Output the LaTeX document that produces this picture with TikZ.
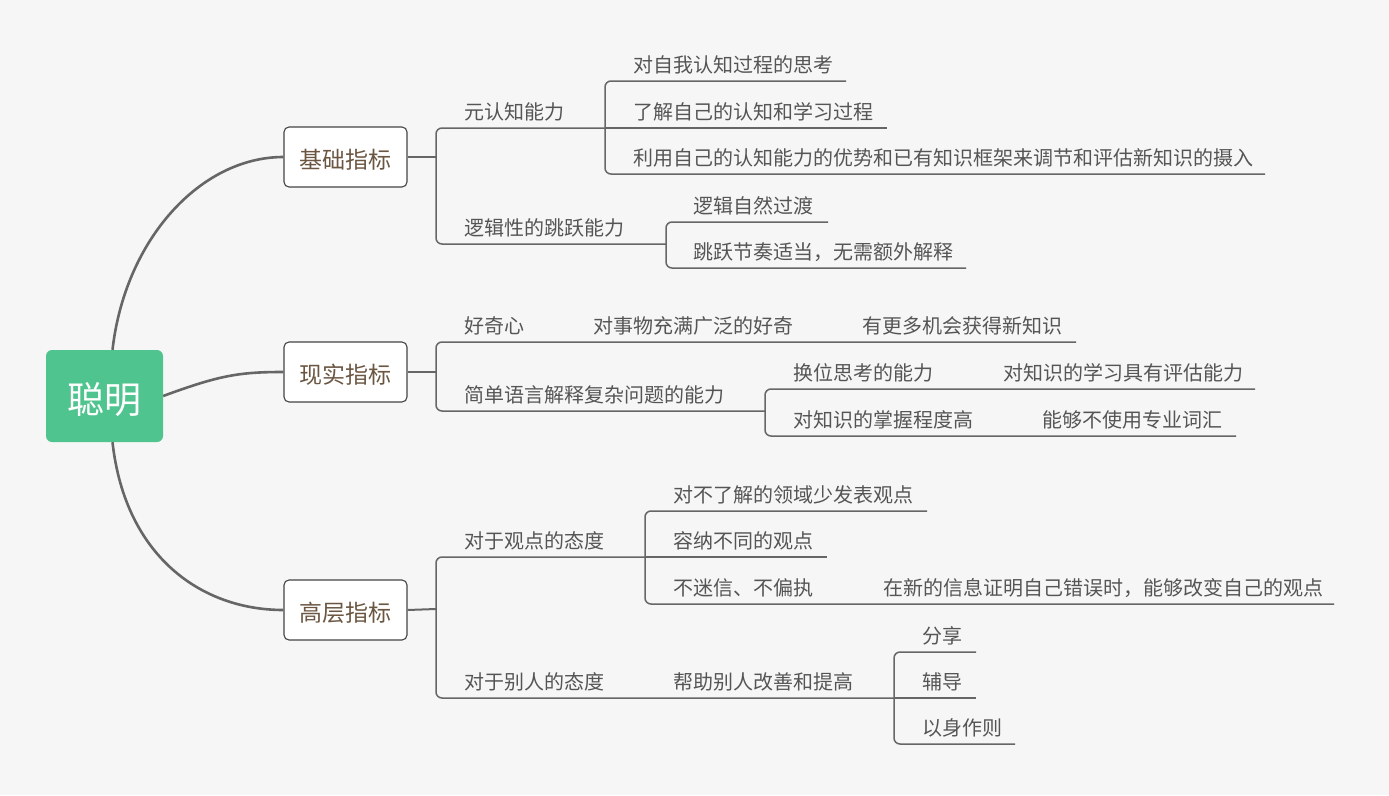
\documentclass[tikz,border=0pt]{standalone}
\usepackage{fontspec}
\setmainfont{Noto Sans CJK SC}
\definecolor{bgc}{HTML}{F6F6F6}
\definecolor{rootc}{HTML}{50C48F}
\definecolor{linec}{HTML}{666666}
\definecolor{leafc}{HTML}{555555}
\definecolor{boxtc}{HTML}{6B5642}
\definecolor{boxdc}{HTML}{444444}
\tikzset{
  leaf/.style={font=\fontsize{20}{24}\selectfont, text=leafc, inner sep=0pt, anchor=base west, yshift=-1.5pt},
  mainbox/.style={draw=boxdc, fill=white, line width=1.1pt, rounded corners=5pt, minimum width=123pt, minimum height=60pt, inner sep=0pt, font=\fontsize{23}{27}\selectfont, text=boxtc},
  rootbox/.style={fill=rootc, rounded corners=6pt, minimum width=117pt, minimum height=92pt, inner sep=0pt, font=\fontsize{37}{42}\selectfont, text=white},
  mainline/.style={draw=linec, line width=2.6pt},
  conn/.style={draw=linec, line width=2pt},
  uline/.style={draw=linec, line width=1.5pt, rounded corners=6pt},
}
\newcommand{\dn}[2]{\raisebox{-#1}[\height][\depth]{#2}}
\begin{document}
\begin{tikzpicture}[x=1pt,y=-1pt]
\fill[bgc] (0,0) rectangle (1389,795);
\useasboundingbox (0,0) rectangle (1389,795);

% root and main boxes
\node[rootbox] (root) at (104.5,396) {\dn{4pt}{聪明}};
\node[mainbox] (b1) at (345.5,157) {\dn{2.5pt}{基础指标}};
\node[mainbox] (b2) at (345.5,372) {\dn{2.5pt}{现实指标}};
\node[mainbox] (b3) at (345.5,610) {\dn{2.5pt}{高层指标}};

\draw[mainline] ([xshift=8pt]root.north) .. controls (125,240) and (200,157) .. (b1.west);
\draw[mainline] (root.east) .. controls (220,375) and (240,372) .. (b2.west);
\draw[mainline] ([xshift=8pt]root.south) .. controls (125,555) and (200,610) .. (b3.west);

% ---------- 基础指标 ----------
\coordinate (k1) at (436,157);
\draw[conn] (b1.east) -- (k1);
\node[leaf] (a1) at (464,118) {元认知能力};
\node[leaf] (a2) at (464,234) {逻辑性的跳跃能力};
\draw[uline] (605,128) -- (436,128) -- (436,244) -- (666,244);

\node[leaf] (a11) at (633,71) {对自我认知过程的思考};
\node[leaf] (a12) at (633,118) {了解自己的认知和学习过程};
\node[leaf] (a13) at (633,164) {利用自己的认知能力的优势和已有知识框架来调节和评估新知识的摄入};
\draw[uline] (846,81) -- (605,81) -- (605,174) -- (1265,174);
\draw[uline] (605,128) -- (887,128);

\node[leaf] (a21) at (693,212) {逻辑自然过渡};
\node[leaf] (a22) at (693,258) {跳跃节奏适当，无需额外解释};
\draw[uline] (828,222) -- (666,222) -- (666,268) -- (966,268);

% ---------- 现实指标 ----------
\coordinate (k2) at (436,372);
\draw[conn] (b2.east) -- (k2);
\node[leaf] (c1) at (464,332) {好奇心};
\node[leaf] (c11) at (593,332) {对事物充满广泛的好奇};
\node[leaf] (c111) at (862,332) {有更多机会获得新知识};
\node[leaf] (c2) at (464,401) {简单语言解释复杂问题的能力};
\draw[uline] (1076,342) -- (436,342) -- (436,411) -- (765,411);

\node[leaf] (c21) at (793,379) {换位思考的能力};
\node[leaf] (c211) at (1003,379) {对知识的学习具有评估能力};
\node[leaf] (c22) at (793,426) {对知识的掌握程度高};
\node[leaf] (c221) at (1042,426) {能够不使用专业词汇};
\draw[uline] (1255,389) -- (765,389) -- (765,436) -- (1236,436);

% ---------- 高层指标 ----------
\coordinate (k3) at (436,609);
\draw[conn] (b3.east) -- (k3);
\node[leaf] (e1) at (464,547) {对于观点的态度};
\node[leaf] (e2) at (464,688) {对于别人的态度};
\draw[uline] (645,557) -- (436,557) -- (436,698) -- (894,698);

\node[leaf] (e11) at (673,501) {对不了解的领域少发表观点};
\node[leaf] (e12) at (673,547) {容纳不同的观点};
\node[leaf] (e13) at (673,594) {不迷信、不偏执};
\node[leaf] (e131) at (883,594) {在新的信息证明自己错误时，能够改变自己的观点};
\draw[uline] (927,511) -- (645,511) -- (645,604) -- (1334,604);
\draw[uline] (645,557) -- (827,557);

\node[leaf] (e21) at (673,688) {帮助别人改善和提高};
\node[leaf] (e211) at (922,642) {分享};
\node[leaf] (e212) at (922,688) {辅导};
\node[leaf] (e213) at (922,734) {以身作则};
\draw[uline] (976,652) -- (894,652) -- (894,744) -- (1015,744);
\draw[uline] (894,698) -- (976,698);
\end{tikzpicture}
\end{document}
